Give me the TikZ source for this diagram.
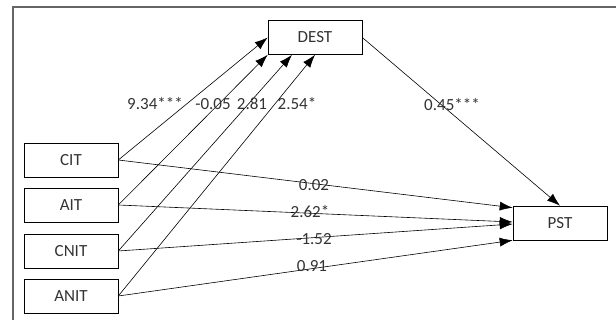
\documentclass[tikz,border=0pt]{standalone}
\usepackage{fontspec}
\setmainfont{Carlito}
\usetikzlibrary{arrows.meta}

\begin{document}
\begin{tikzpicture}
[x=1pt,y=-1pt,line width=.6pt,>={Latex[length=13pt,width=9pt]},
every node/.style={font=\fontsize{17}{20}\selectfont,text=black!80},
var/.style={draw,minimum width=94pt,minimum height=34pt,inner sep=0pt},
coef/.style={inner sep=0pt}]
\useasboundingbox (0,0) rectangle (616,320);
\draw[black!60,line width=1.3pt] (13,320) -- (13,7) -- (616,7);
\node[var] (dest) at (315,37.5) {DEST};
\node[var] (cit) at (71,160) {CIT};
\node[var] (ait) at (71,205) {AIT};
\node[var] (cnit) at (71,251) {CNIT};
\node[var] (anit) at (71,296) {ANIT};
\node[var] (pst) at (560,223) {PST};
% arrow end points
\coordinate (d3) at ([xshift=-23pt]dest.south);
\coordinate (p1) at ([yshift=-2pt]pst.north west);
\coordinate (p2) at ([yshift=1pt]pst.west);
\coordinate (p3) at ([yshift=-1pt]pst.west);
\foreach \from/\to in {cit/dest.west,ait/dest.south west,cnit/d3,anit/dest.south,cit/p1,ait/p2,cnit/p3,anit/pst.south west}
\draw[->] (\from.east) -- (\to);
\draw[->] (dest.east) -- (pst.north);
\node[coef] (c1) at (155,104) {9.34***};
\node[coef] (c2) at (213,104) {-0.05};
\node[coef] (c3) at (252,104) {2.81};
\node[coef] (c4) at (297,104) {2.54*};
\node[coef] (c5) at (452,105) {0.45***};
\node[coef] (c6) at (314,185) {0.02};
\node[coef] (c7) at (310,212) {2.62*};
\node[coef] (c8) at (314,239) {-1.52};
\node[coef] (c9) at (312,266) {0.91};
\end{tikzpicture}
\end{document}
